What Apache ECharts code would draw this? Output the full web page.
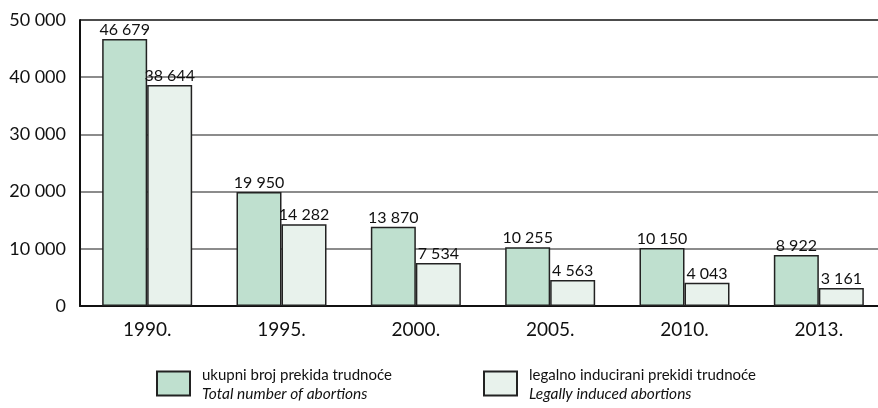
<!DOCTYPE html>
<html>
<head>
<meta charset="utf-8">
<script src="https://cdn.jsdelivr.net/npm/echarts@6/dist/echarts.min.js"></script>
<style>
  html, body { margin: 0; padding: 0; background: #fff; overflow: hidden; }
  #chart { width: 886px; height: 408px; }
</style>
</head>
<body>
<div id="chart"></div>
<script>
const years = ['1990.', '1995.', '2000.', '2005.', '2010.', '2013.'];
const totalAbortions = [46679, 19950, 13870, 10255, 10150, 8922];
const legalAbortions = [38644, 14282, 7534, 4563, 4043, 3161];
const seriesNames = ['ukupni broj prekida trudnoće', 'legalno inducirani prekidi trudnoće'];
const seriesNamesEn = ['Total number of abortions', 'Legally induced abortions'];

const fontName = 'Lato';

function spaced(v) {
    return String(v).replace(/\B(?=(\d{3})+(?!\d))/g, ' ');
}

function legendLabel(name) {
    let idx = seriesNames.indexOf(name);
    return '{a|' + name + '}\n{b|' + seriesNamesEn[idx] + '}';
}

const legendRich = {
    a: { fontFamily: fontName, fontSize: 15, color: '#111', lineHeight: 20, padding: [4, 0, 0, 7] },
    b: { fontFamily: fontName, fontSize: 15.5, fontStyle: 'italic', color: '#111', lineHeight: 20, padding: [0, 0, 0, 7] }
};

let dom = document.getElementById('chart');
let myChart = echarts.init(dom, null, { renderer: 'canvas' });

let option = {
    animation: false,
    grid: {
        left: 80,
        right: 0,
        top: 20,
        bottom: 102,
        containLabel: false
    },
    legend: [
        {
            data: [seriesNames[0]],
            icon: 'rect',
            left: 151,
            top: 359,
            itemWidth: 33,
            itemHeight: 24,
            formatter: legendLabel,
            textStyle: { rich: legendRich }
        },
        {
            data: [seriesNames[1]],
            icon: 'rect',
            left: 478,
            top: 359,
            itemWidth: 33,
            itemHeight: 24,
            formatter: legendLabel,
            textStyle: { rich: legendRich }
        }
    ],
    xAxis: {
        type: 'category',
        data: years,
        axisLine: { lineStyle: { color: '#111', width: 2 } },
        axisTick: { show: false },
        axisLabel: {
            fontFamily: fontName,
            fontSize: 19,
            color: '#111',
            margin: 14
        }
    },
    yAxis: {
        type: 'value',
        min: 0,
        max: 50000,
        interval: 10000,
        axisLine: { show: true, lineStyle: { color: '#111', width: 2 } },
        axisTick: { show: false },
        splitLine: {
            lineStyle: {
                color: ['#666', '#666', '#666', '#666', '#666', '#111'],
                width: 1.5
            }
        },
        axisLabel: {
            fontFamily: fontName,
            fontSize: 18,
            color: '#111',
            margin: 14,
            formatter: (v) => spaced(v)
        }
    },
    series: [
        {
            name: seriesNames[0],
            type: 'bar',
            data: totalAbortions,
            barWidth: 45,
            barGap: '0%',
            itemStyle: {
                color: '#bfe0cf',
                borderColor: '#222',
                borderWidth: 1.5
            },
            label: {
                show: true,
                position: 'top',
                distance: 1,
                fontFamily: fontName,
                fontSize: 16,
                color: '#111',
                formatter: (p) => spaced(p.value)
            }
        },
        {
            name: seriesNames[1],
            type: 'bar',
            data: legalAbortions,
            barWidth: 45,
            barGap: '0%',
            itemStyle: {
                color: '#e8f2ec',
                borderColor: '#222',
                borderWidth: 1.5
            },
            label: {
                show: true,
                position: 'top',
                distance: 1,
                fontFamily: fontName,
                fontSize: 16,
                color: '#111',
                formatter: (p) => spaced(p.value)
            }
        }
    ]
};

myChart.setOption(option);
</script>
</body>
</html>
